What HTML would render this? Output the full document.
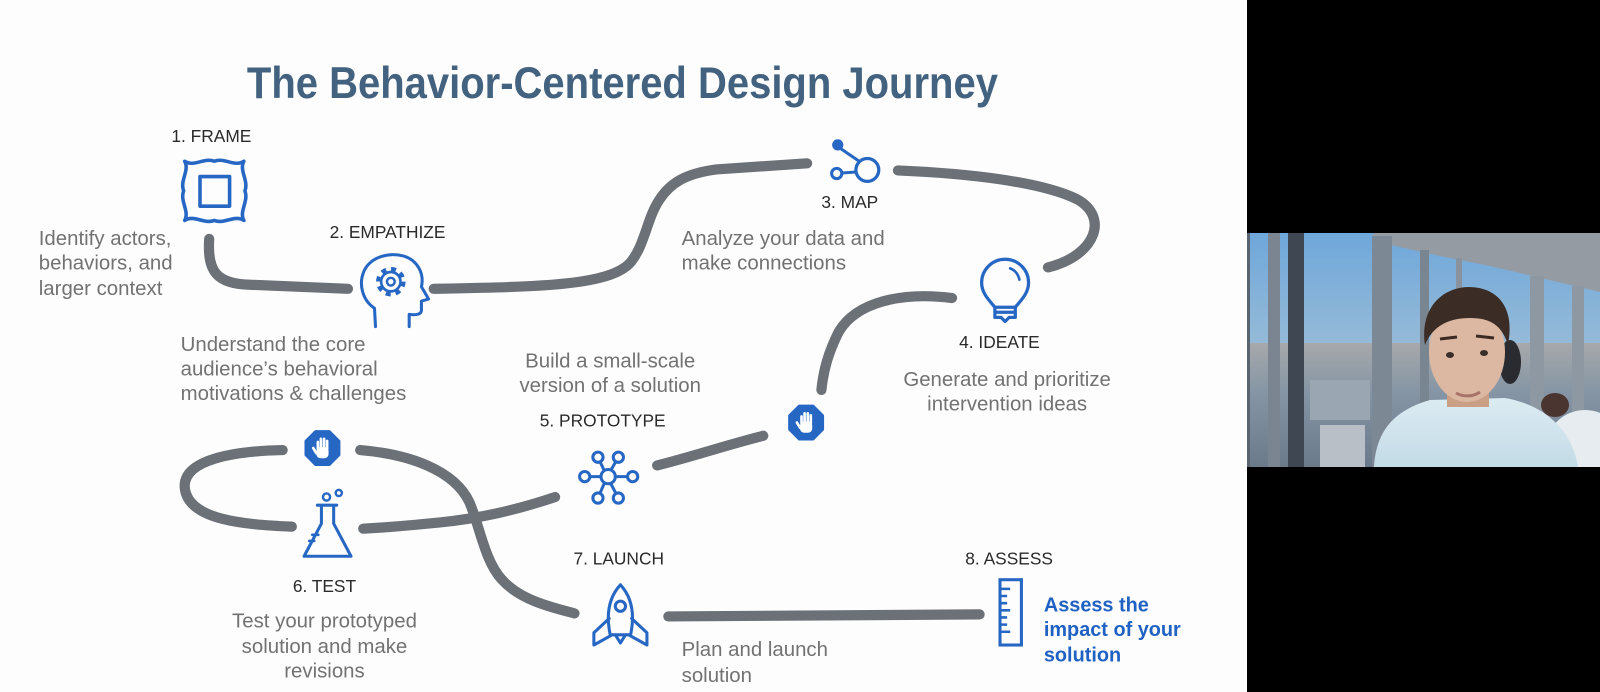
<!DOCTYPE html>
<html>
<head>
<meta charset="utf-8">
<style>
html,body{margin:0;padding:0;background:#000;}
body{width:1600px;height:692px;overflow:hidden;}
svg{display:block;}
.lbl{font-family:"Liberation Sans",Arial,sans-serif;font-size:17px;fill:#2a2a2a;}
.desc{font-family:"Liberation Sans",Arial,sans-serif;font-size:20px;fill:#727272;}
.path{fill:none;stroke:#6b7177;stroke-width:10;stroke-linecap:round;}
.ic{fill:none;stroke:#2767c4;stroke-width:3.5;stroke-linejoin:round;stroke-linecap:round;}
</style>
</head>
<body>
<svg width="1600" height="692" viewBox="0 0 1600 692" xmlns="http://www.w3.org/2000/svg">
<defs>
  <linearGradient id="sky" x1="0" y1="0" x2="0" y2="1">
    <stop offset="0" stop-color="#6ea7da"/>
    <stop offset="0.7" stop-color="#a9c3d6"/>
    <stop offset="1" stop-color="#e2c7ad"/>
  </linearGradient>
  <linearGradient id="city" x1="0" y1="0" x2="0" y2="1">
    <stop offset="0" stop-color="#a7a9ab"/>
    <stop offset="0.4" stop-color="#8595a5"/>
    <stop offset="1" stop-color="#6a7a8b"/>
  </linearGradient>
  <linearGradient id="shirt" x1="0" y1="0" x2="0" y2="1">
    <stop offset="0" stop-color="#dcebf2"/>
    <stop offset="1" stop-color="#c3dbe6"/>
  </linearGradient>
</defs>

<rect x="0" y="0" width="1600" height="692" fill="#000"/>
<rect x="0" y="0" width="1247" height="692" fill="#fdfdfd"/>

<g transform="scale(1.0204,1.0206)">
  <!-- Title -->
  <text x="242" y="96" textLength="736" lengthAdjust="spacingAndGlyphs" font-family="'Liberation Sans',Arial,sans-serif" font-weight="bold" font-size="44" fill="#42627f">The Behavior-Centered Design Journey</text>

  <!-- Paths -->
  <path class="path" d="M205,234 C203,266 212,278 245,279 L341,283"/>
  <path class="path" d="M425,283 C530,281 598,280 618,257 C632,240 634,214 646,196 C657,179 672,170 702,166 L791,160"/>
  <path class="path" d="M880,167 C950,170 1020,178 1055,195 C1087,212 1075,250 1027,262"/>
  <path class="path" d="M933,292 C885,286 840,295 822,325 C812,345 807,362 805,382"/>
  <path class="path" d="M748,427 C712,436 680,447 644,456"/>
  <path class="path" d="M544,487 C505,500 470,508 430,512 C400,515 375,517 356,518"/>
  <path class="path" d="M286,516 C240,514 183,510 181,477 C180,450 230,442 277,441"/>
  <path class="path" d="M353,441 C400,445 445,460 460,492 C470,515 475,550 492,568 C510,588 540,595 563,601"/>
  <path class="path" d="M655,604 L960,602"/>

  <!-- 1 FRAME icon -->
  <path class="ic" d="M181,158 C190,164 200,154 210,158 C220,154 230,164 239,158 C234,167 244,177 240,187 C244,197 234,207 239,216 C230,210 220,220 210,216 C200,220 190,210 181,216 C186,207 176,197 180,187 C176,177 186,167 181,158 Z"/>
  <rect class="ic" x="196" y="173" width="29" height="29"/>

  <!-- 2 EMPATHIZE head -->
  <path class="ic" style="stroke-width:3" d="M368,320 L367,302 C355,294 351,278 357,265 C364,251 382,247 396,251 C409,255 416,268 413,281 L420,293 L413,295 L413,304 C413,308 408,309 401,308 L401,320"/>
  <circle cx="383" cy="276" r="12.5" fill="none" stroke="#2767c4" stroke-width="4" stroke-dasharray="4.9 4.9"/>
  <circle cx="383" cy="276" r="9.5" fill="none" stroke="#2767c4" stroke-width="2.6"/>
  <circle cx="383" cy="276" r="3.8" fill="none" stroke="#2767c4" stroke-width="2.4"/>

  <!-- 3 MAP -->
  <circle cx="821" cy="142" r="5.5" fill="#2767c4"/>
  <line x1="823" y1="145" x2="842" y2="158" stroke="#2767c4" stroke-width="3"/>
  <circle cx="850" cy="166.5" r="11.2" fill="none" stroke="#2767c4" stroke-width="3.2"/>
  <circle cx="820" cy="170" r="5" fill="none" stroke="#2767c4" stroke-width="3"/>
  <line x1="825" y1="169.5" x2="839" y2="168.5" stroke="#2767c4" stroke-width="3"/>

  <!-- 4 IDEATE bulb -->
  <path class="ic" style="stroke-width:3.2" d="M975,301 C969,294 962,287 962,277 A23,23 0 1 1 1008,277 C1008,287 1001,294 995,301 Z"/>
  <path class="ic" style="stroke-width:3.2" d="M975,301 L975,311 L981,311 L985,315 L989,311 L995,311 L995,301 M975,306 L995,306"/>
  <path class="ic" style="stroke-width:2.6" d="M990,263 C995,265 998,269 999,274"/>

  <!-- Stop hands -->
  <g transform="translate(316,439)">
    <polygon points="16.6,-6.9 16.6,6.9 6.9,16.6 -6.9,16.6 -16.6,6.9 -16.6,-6.9 -6.9,-16.6 6.9,-16.6" fill="#2767c4" stroke="#2767c4" stroke-width="2" stroke-linejoin="round"/>
    <g stroke="#fff" stroke-width="2.6" stroke-linecap="round">
      <line x1="-4.5" y1="-6" x2="-4.5" y2="1"/><line x1="-1.5" y1="-9" x2="-1.5" y2="0"/>
      <line x1="1.6" y1="-9" x2="1.6" y2="0"/><line x1="4.6" y1="-7" x2="4.6" y2="1"/>
      <line x1="-6" y1="5" x2="-9" y2="0"/>
    </g>
    <rect x="-6" y="-1" width="12" height="11" rx="4" fill="#fff"/>
  </g>
  <g transform="translate(790,414)">
    <polygon points="16.6,-6.9 16.6,6.9 6.9,16.6 -6.9,16.6 -16.6,6.9 -16.6,-6.9 -6.9,-16.6 6.9,-16.6" fill="#2767c4" stroke="#2767c4" stroke-width="2" stroke-linejoin="round"/>
    <g stroke="#fff" stroke-width="2.6" stroke-linecap="round">
      <line x1="-4.5" y1="-6" x2="-4.5" y2="1"/><line x1="-1.5" y1="-9" x2="-1.5" y2="0"/>
      <line x1="1.6" y1="-9" x2="1.6" y2="0"/><line x1="4.6" y1="-7" x2="4.6" y2="1"/>
      <line x1="-6" y1="5" x2="-9" y2="0"/>
    </g>
    <rect x="-6" y="-1" width="12" height="11" rx="4" fill="#fff"/>
  </g>

  <!-- 5 PROTOTYPE -->
  <g stroke="#2767c4" stroke-width="3" fill="none">
    <line x1="595" y1="467" x2="586" y2="448"/><line x1="595" y1="467" x2="606" y2="448"/>
    <line x1="595" y1="467" x2="573" y2="467"/><line x1="595" y1="467" x2="622" y2="467"/>
    <line x1="595" y1="467" x2="586" y2="488"/><line x1="595" y1="467" x2="606" y2="488"/>
  </g>
  <g stroke="#2767c4" stroke-width="3" fill="#fdfdfd">
    <circle cx="596" cy="467" r="7"/>
    <circle cx="586" cy="448" r="5"/><circle cx="606" cy="448" r="5"/>
    <circle cx="573" cy="467" r="5"/><circle cx="620" cy="467" r="5"/>
    <circle cx="586" cy="488" r="5"/><circle cx="606" cy="488" r="5"/>
  </g>

  <!-- 6 TEST flask -->
  <path class="ic" style="stroke-width:3" d="M311,495 L330,495 M315,495 L315,513 L298,545 L344,545 L327,513 L327,495"/>
  <path class="ic" style="stroke-width:2.5" d="M306,524 L312,524 M303,530 L308,530"/>
  <circle cx="320" cy="487" r="3.5" fill="none" stroke="#2767c4" stroke-width="2.4"/>
  <circle cx="332" cy="483" r="3" fill="none" stroke="#2767c4" stroke-width="2.4"/>

  <!-- 7 LAUNCH rocket -->
  <path class="ic" style="stroke-width:3" d="M608,573 C596,586 594,603 598,622 L618,622 C622,603 620,586 608,573 Z"/>
  <circle cx="608" cy="594" r="5" fill="none" stroke="#2767c4" stroke-width="3"/>
  <path class="ic" style="stroke-width:3" d="M597,606 L582,620 L582,632 L600,622 M619,606 L634,620 L634,632 L616,622 M603,622 L608,630 L613,622"/>

  <!-- 8 ASSESS ruler -->
  <rect x="980" y="568" width="21" height="64" fill="none" stroke="#2767c4" stroke-width="3"/>
  <path d="M981,577 L990,577 M981,584 L987,584 M981,591 L987,591 M981,598 L990,598 M981,605 L987,605 M981,612 L987,612 M981,619 L990,619" stroke="#2767c4" stroke-width="2.5"/>

  <!-- Labels -->
  <text class="lbl" x="168" y="139">1. FRAME</text>
  <text class="lbl" x="323" y="233">2. EMPATHIZE</text>
  <text class="lbl" x="805" y="204">3. MAP</text>
  <text class="lbl" x="940" y="341">4. IDEATE</text>
  <text class="lbl" x="529" y="418">5. PROTOTYPE</text>
  <text class="lbl" x="287" y="580">6. TEST</text>
  <text class="lbl" x="562" y="553">7. LAUNCH</text>
  <text class="lbl" x="946" y="553">8. ASSESS</text>

  <!-- Descriptions -->
  <text class="desc" x="38" y="240">Identify actors,</text>
  <text class="desc" x="38" y="264">behaviors, and</text>
  <text class="desc" x="38" y="289">larger context</text>

  <text class="desc" x="177" y="344">Understand the core</text>
  <text class="desc" x="177" y="368">audience’s behavioral</text>
  <text class="desc" x="177" y="392">motivations &amp; challenges</text>

  <text class="desc" x="668" y="240">Analyze your data and</text>
  <text class="desc" x="668" y="264">make connections</text>

  <text class="desc" x="598" y="360" text-anchor="middle">Build a small-scale</text>
  <text class="desc" x="598" y="384" text-anchor="middle">version of a solution</text>

  <text class="desc" x="987" y="378" text-anchor="middle">Generate and prioritize</text>
  <text class="desc" x="987" y="402" text-anchor="middle">intervention ideas</text>

  <text class="desc" x="318" y="615" text-anchor="middle">Test your prototyped</text>
  <text class="desc" x="318" y="640" text-anchor="middle">solution and make</text>
  <text class="desc" x="318" y="664" text-anchor="middle">revisions</text>

  <text class="desc" x="668" y="643">Plan and launch</text>
  <text class="desc" x="668" y="668">solution</text>

  <g font-family="'Liberation Sans',Arial,sans-serif" font-weight="bold" font-size="19.5" fill="#1f62c4">
    <text x="1023" y="599">Assess the</text>
    <text x="1023" y="623">impact of your</text>
    <text x="1023" y="648">solution</text>
  </g>
</g>

<!-- Webcam -->
<g>
  <rect x="1247" y="233" width="353" height="234" fill="url(#sky)"/>
  <rect x="1247" y="343" width="353" height="124" fill="url(#city)"/>
  <rect x="1310" y="380" width="60" height="40" fill="#9aa6b2"/>
  <rect x="1320" y="425" width="45" height="42" fill="#b9bfc6"/>
  <polygon points="1373,233 1600,233 1600,292 1490,266 1440,256 1373,241" fill="#959ba3"/>
  <rect x="1247" y="233" width="3" height="234" fill="#5a6470"/>
  <rect x="1268" y="233" width="12" height="234" fill="#7a8591"/>
  <rect x="1288" y="233" width="16" height="234" fill="#3f4852"/>
  <rect x="1372" y="236" width="20" height="231" fill="#7d8895"/>
  <rect x="1420" y="250" width="9" height="217" fill="#7a8592"/>
  <rect x="1456" y="258" width="6" height="209" fill="#8a939d"/>
  <rect x="1530" y="276" width="14" height="191" fill="#8e98a2"/>
  <rect x="1572" y="286" width="12" height="181" fill="#8e98a2"/>
  <ellipse cx="1585" cy="450" rx="40" ry="40" fill="#e6ecef"/>
  <ellipse cx="1555" cy="405" rx="14" ry="12" fill="#4a3530"/>
  <path d="M1374,467 C1376,430 1395,410 1430,400 L1505,398 C1545,405 1572,430 1578,467 Z" fill="url(#shirt)"/>
  <rect x="1447" y="385" width="42" height="22" fill="#c99f86"/>
  <ellipse cx="1510" cy="362" rx="11" ry="22" fill="#2a2b30"/>
  <ellipse cx="1467" cy="352" rx="38" ry="50" fill="#dcb8a2"/>
  <path d="M1425,345 C1420,310 1440,288 1468,287 C1500,287 1515,310 1508,345 C1502,325 1490,318 1470,318 C1450,318 1433,325 1425,345 Z" fill="#3b2c25"/>
  <path d="M1440,339 L1457,337 M1476,336 L1494,338" stroke="#3b2a22" stroke-width="3"/>
  <ellipse cx="1450" cy="355" rx="4" ry="3" fill="#3a2e2a"/>
  <ellipse cx="1484" cy="353" rx="4" ry="3" fill="#3a2e2a"/>
  <path d="M1456,393 C1463,397 1473,397 1480,392" stroke="#a8746a" stroke-width="3" fill="none"/>
  <rect x="1247" y="467" width="353" height="225" fill="#000"/>
</g>
</svg>
</body>
</html>
